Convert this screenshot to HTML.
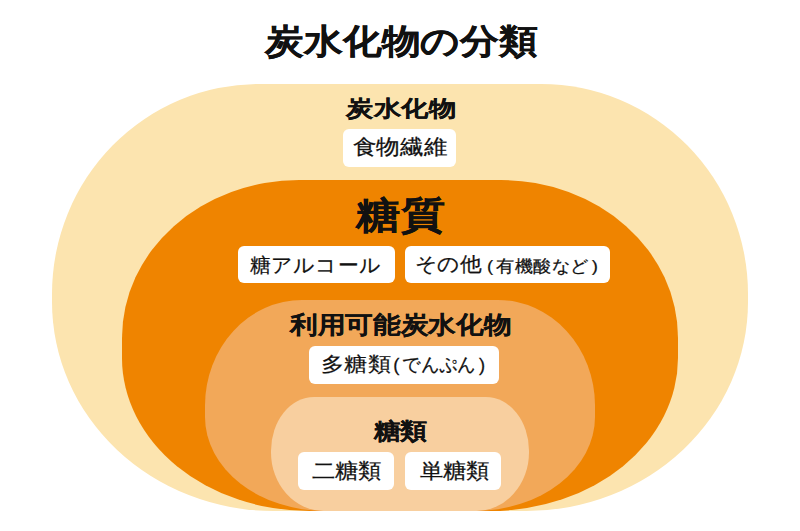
<!DOCTYPE html>
<html><head><meta charset="utf-8">
<style>
html,body{margin:0;padding:0;background:#fff;}
body{width:800px;height:531px;position:relative;overflow:hidden;font-family:"Liberation Sans",sans-serif;color:#111;}
.s{position:absolute;}
#o1{left:52.3px;top:83.5px;width:695.4px;height:427.5px;background:#FCE4AF;border-radius:206.7px 206.7px 221.5px 221.5px / 210.1px 210.1px 209.0px 209.0px;}
#o2{left:122.1px;top:180.3px;width:555.8px;height:330.7px;background:#EF8400;border-radius:177.2px 177.2px 187.6px 187.6px / 157.7px 157.7px 153.0px 153.0px;}
#o3{left:205.3px;top:299.6px;width:389.4px;height:211.4px;background:#F2A859;border-radius:97.1px 97.1px 120.6px 120.6px / 105.5px 105.5px 94.0px 94.0px;}
#o4{left:271.4px;top:397.3px;width:257.2px;height:113.7px;background:#F8CF9F;border-radius:43.1px 43.1px 52.7px 52.7px / 53.7px 53.7px 58.6px 58.6px;}
.t{position:absolute;white-space:nowrap;line-height:1;transform-origin:0 0;}
.b{font-weight:bold;-webkit-text-stroke:0.2px #111;}
.t:not(.b){-webkit-text-stroke:0.25px #111;}
.box{position:absolute;background:#fff;border-radius:6px;}
.sm{font-size:18px;}
.p{margin-right:3px;}.p2{margin-left:3px;}
</style></head><body>
<div class="s" id="o1"></div>
<div class="s" id="o2"></div>
<div class="s" id="o3"></div>
<div class="s" id="o4"></div>

<div class="t b" id="title" style="-webkit-text-stroke:0.3px #111;left:262px;top:22px;font-size:39px;transform:translate(3.00px,2.00px) scale(0.9964,0.8750);">炭水化物の分類</div>

<div class="t b" id="l1" style="left:344px;top:96px;font-size:27px;transform:translate(2.02px,1.82px) scale(1.0185,0.8214);">炭水化物</div>
<div class="box" style="left:343.3px;top:129.3px;width:113.2px;height:37.4px;"></div>
<div class="t" id="x1" style="left:353px;top:136px;font-size:23px;transform:translate(-0.02px,1.00px) scale(1.0222,0.9091);">食物繊維</div>

<div class="t b" id="l2" style="left:354px;top:193px;font-size:45px;transform:translate(1.99px,3.33px) scale(0.9944,0.8333);">糖質</div>
<div class="box" style="left:237.7px;top:245.5px;width:157.3px;height:37.8px;"></div>
<div class="t" id="x2" style="left:249px;top:254px;font-size:23px;transform:translate(1.00px,1.00px) scale(0.9220,0.8864);">糖アルコール</div>
<div class="box" style="left:405.3px;top:245.5px;width:204.4px;height:37.5px;"></div>
<div class="t" id="x3" style="left:415px;top:254px;font-size:23px;transform:translate(-0.38px,0.50px) scale(0.9420,0.8696);">その他</div>
<div class="t" id="x3b" style="left:488px;top:257px;font-size:18px;transform:translate(-1.03px,0.50px) scale(1.0283,0.9632);"><span class="p">(</span>有機酸など<span class="p2">)</span></div>

<div class="t b" id="l3" style="left:288px;top:311px;font-size:27.5px;transform:translate(1.99px,2.46px) scale(0.9884,0.8586);">利用可能炭水化物</div>
<div class="box" style="left:309.4px;top:346.1px;width:189.3px;height:37.7px;"></div>
<div class="t" id="x4" style="left:321px;top:353px;font-size:23px;transform:translate(-0.01px,1.00px) scale(1.0149,0.8783);">多糖類</div>
<div class="t" id="x4b" style="left:394px;top:357px;font-size:18px;transform:translate(-0.82px,-1.72px) scale(1.0205,1.0588);"><span class="p">(</span>でんぷん<span class="p2">)</span></div>

<div class="t b" id="l4" style="left:372px;top:419px;font-size:27px;transform:translate(1.98px,1.84px) scale(0.9818,0.8357);">糖類</div>
<div class="box" style="left:298.3px;top:451.8px;width:95.8px;height:37.9px;"></div>
<div class="t" id="x5" style="left:310px;top:459px;font-size:23px;transform:translate(1.50px,1.50px) scale(1.0147,0.9130);">二糖類</div>
<div class="box" style="left:405.4px;top:451.8px;width:95.7px;height:37.9px;"></div>
<div class="t" id="x6" style="left:418px;top:459px;font-size:23px;transform:translate(1.50px,1.50px) scale(1.0147,0.9130);">単糖類</div>
</body></html>
